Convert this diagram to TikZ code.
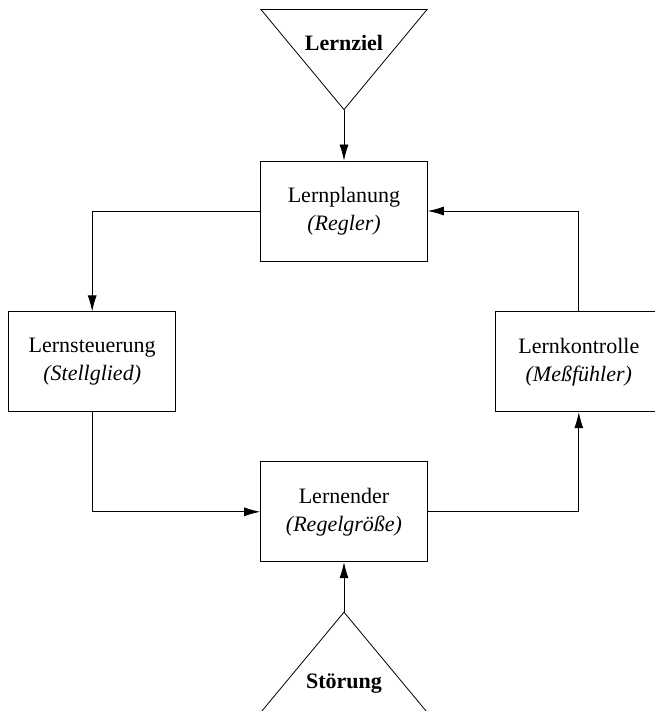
\documentclass[tikz,border=0pt]{standalone}
\usepackage{fontspec}
\setmainfont{Liberation Serif}
\usepackage{tikz}
\usetikzlibrary{positioning, arrows.meta}

\begin{document}
\begin{tikzpicture}[
    every node/.style={font=\fontsize{11}{14}\selectfont},
    block/.style={draw, thin, minimum width=83.5pt, minimum height=50pt, align=center},
    flow/.style={draw, thin, -{Latex[length=8pt, width=4.5pt]}},
    tri/.style={draw, thin}
]
\useasboundingbox (-172pt,105.5pt) rectangle (155pt,-250pt);

% Blocks of the loop
\node[block] (plan) at (0,0) {Lernplanung \\ \textit{(Regler)}};
\node[block, below left=25pt and 42pt of plan] (steu) {Lernsteuerung \\ \textit{(Stellglied)}};
\node[block, below right=25pt and 33.5pt of plan] (kontr) {Lernkontrolle \\ \textit{(Meßfühler)}};
\node[block, below=100pt of plan] (learner) {Lernender \\ \textit{(Regelgröße)}};

% Input and disturbance triangles
\coordinate[above=25.5pt of plan] (goal);
\draw[tri] (goal) -- ++(-41.5pt,50pt) -- ++(83pt,0pt) -- cycle;
\node[font=\fontsize{11}{14}\selectfont\bfseries] (goallabel) at ([yshift=33.5pt]goal) {Lernziel};

\coordinate[below=25pt of learner] (dist);
\draw[tri] (dist) -- ++(-43.2pt,-52pt) -- ++(86.4pt,0pt) -- cycle;
\node[font=\fontsize{11}{14}\selectfont\bfseries] (distlabel) at ([yshift=-35.5pt]dist) {Störung};

% Connectors
\draw[flow] (goal) -- (plan.north);
\draw[flow] (plan.west) -| (steu.north);
\draw[flow] (steu.south) |- (learner.west);
\draw[flow] (learner.east) -| (kontr.south);
\draw[flow] (kontr.north) |- (plan.east);
\draw[flow] (dist) -- (learner.south);

\end{tikzpicture}
\end{document}
